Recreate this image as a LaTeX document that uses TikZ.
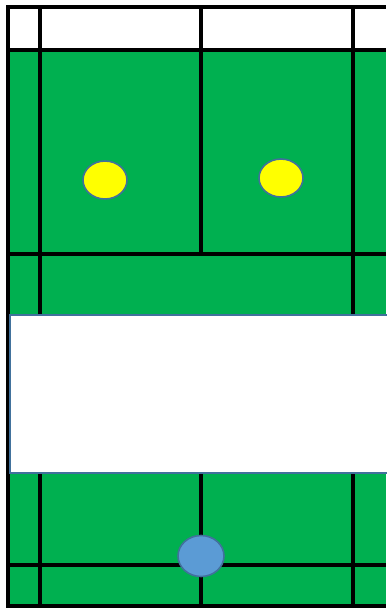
\documentclass[tikz,border=0pt]{standalone}
\usepackage{xcolor}
\definecolor{fieldc}{RGB}{0,176,80}
\definecolor{shuttlec}{RGB}{255,255,0}
\definecolor{playerc}{RGB}{91,155,213}
\definecolor{edgec}{RGB}{65,113,156}

\begin{document}
\begin{tikzpicture}[
  x=1pt, y=-1pt,
  courtline/.style={draw=black, line width=4pt},
  panel/.style={draw=edgec, fill=white, line width=2pt},
  dot/.style={draw=edgec, line width=1.6pt, fill=#1},
]
\useasboundingbox (0,0) rectangle (386,608);

% ---- green field ----
\fill[fieldc] (10,50) rectangle (386,606);

% ---- court lines ----
\foreach \y in {7,50,254,565,606}
  \draw[courtline] (6,\y) -- (386,\y);
\foreach \x in {8,40,353}
  \draw[courtline] (\x,5) -- (\x,608);
\draw[courtline] (201,5) -- (201,256);
\draw[courtline] (201,473) -- (201,608);

% ---- white panel ----
\draw[panel] (10,315) rectangle (390,473);

% ---- markers ----
\draw[dot=shuttlec] (105,180) ellipse [x radius=22, y radius=19];
\draw[dot=shuttlec] (281,178) ellipse [x radius=22, y radius=19];
\draw[dot=playerc] (201,556) ellipse [x radius=23, y radius=20.5];

\end{tikzpicture}
\end{document}
